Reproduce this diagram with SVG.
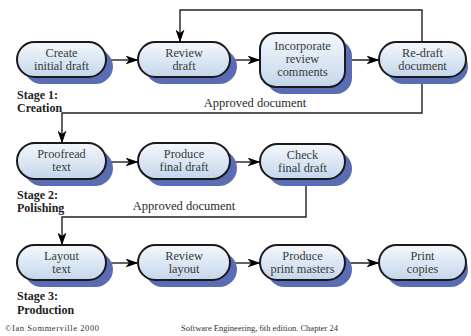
<svg xmlns="http://www.w3.org/2000/svg" width="471" height="336" viewBox="0 0 471 336">
  <defs>
    <linearGradient id="nodeFill" x1="0" y1="0" x2="0" y2="1">
      <stop offset="0" stop-color="#f4f8fc"/>
      <stop offset="1" stop-color="#c4d6eb"/>
    </linearGradient>
    <marker id="arrow" viewBox="0 0 13 9" refX="12.5" refY="4.5" markerWidth="13" markerHeight="9" markerUnits="userSpaceOnUse" orient="auto">
      <path d="M0,0 L13,4.5 L0,9 L3.5,4.5 Z" fill="#000"/>
    </marker>
  </defs>
  <style>
    .shadow { fill: #5a6cb4; }
    .box { fill: url(#nodeFill); stroke: #1a1a1a; stroke-width: 2; }
    text { font-family: 'Liberation Serif', 'Times New Roman', 'DejaVu Serif', serif; }
    .label { font-size: 12.3px; fill: #3a3a3a; text-anchor: middle; }
    .stage { font-size: 12px; font-weight: bold; fill: #222; }
    .note { font-size: 12.5px; fill: #2a2a2a; text-anchor: middle; }
    .foot { font-size: 8.5px; fill: #333; }
    .link { fill: none; stroke: #222; stroke-width: 1.4; }
  </style>
  <rect width="471" height="336" fill="#fff"/>

  <!-- Connectors -->
  <g id="connectors">
    <path class="link" d="M106,60 H138" marker-end="url(#arrow)"/>
    <path class="link" d="M230,60 H260" marker-end="url(#arrow)"/>
    <path class="link" d="M345,60 H379" marker-end="url(#arrow)"/>
    <path class="link" d="M422,42 V10 H180 V42" marker-end="url(#arrow)"/>
    <path class="link" d="M422,77 V113 H62 V143" marker-end="url(#arrow)"/>
    <path class="link" d="M106,162 H138" marker-end="url(#arrow)"/>
    <path class="link" d="M230,162 H260" marker-end="url(#arrow)"/>
    <path class="link" d="M306,179 V217 H62 V245" marker-end="url(#arrow)"/>
    <path class="link" d="M106,263 H138" marker-end="url(#arrow)"/>
    <path class="link" d="M230,263 H260" marker-end="url(#arrow)"/>
    <path class="link" d="M345,263 H379" marker-end="url(#arrow)"/>
  </g>

  <!-- Stage 1: Creation -->
  <g id="create-initial-draft">
    <rect class="shadow" x="24" y="49" width="89" height="35" rx="17.5"/>
    <rect class="box" x="17" y="42" width="89" height="35" rx="17.5"/>
    <text class="label" x="61.5" y="57">Create</text>
    <text class="label" x="61.5" y="70">initial draft</text>
  </g>
  <g id="review-draft">
    <rect class="shadow" x="145" y="49" width="92" height="35" rx="17.5"/>
    <rect class="box" x="138" y="42" width="92" height="35" rx="17.5"/>
    <text class="label" x="184" y="57">Review</text>
    <text class="label" x="184" y="70">draft</text>
  </g>
  <g id="incorporate-comments">
    <rect class="shadow" x="267" y="40" width="85" height="54" rx="16"/>
    <rect class="box" x="260" y="33" width="85" height="54" rx="16"/>
    <text class="label" x="302.5" y="50">Incorporate</text>
    <text class="label" x="302.5" y="63">review</text>
    <text class="label" x="302.5" y="76">comments</text>
  </g>
  <g id="redraft-document">
    <rect class="shadow" x="386" y="49" width="82" height="35" rx="17.5"/>
    <rect class="box" x="379" y="42" width="87" height="35" rx="17.5"/>
    <text class="label" x="422.5" y="57">Re-draft</text>
    <text class="label" x="422.5" y="70">document</text>
  </g>
  <g id="stage-1">
    <text class="stage" x="17" y="99">Stage 1:</text>
    <text class="stage" x="17" y="112">Creation</text>
    <text class="note" x="255" y="107">Approved document</text>
  </g>

  <!-- Stage 2: Polishing -->
  <g id="proofread-text">
    <rect class="shadow" x="24" y="150" width="89" height="36" rx="18"/>
    <rect class="box" x="17" y="143" width="89" height="36" rx="18"/>
    <text class="label" x="61.5" y="158">Proofread</text>
    <text class="label" x="61.5" y="171">text</text>
  </g>
  <g id="produce-final-draft">
    <rect class="shadow" x="145" y="150" width="92" height="36" rx="18"/>
    <rect class="box" x="138" y="143" width="92" height="36" rx="18"/>
    <text class="label" x="184" y="158">Produce</text>
    <text class="label" x="184" y="171">final draft</text>
  </g>
  <g id="check-final-draft">
    <rect class="shadow" x="267" y="151" width="85" height="35" rx="17.5"/>
    <rect class="box" x="260" y="144" width="85" height="35" rx="17.5"/>
    <text class="label" x="302.5" y="159">Check</text>
    <text class="label" x="302.5" y="172">final draft</text>
  </g>
  <g id="stage-2">
    <text class="stage" x="17" y="199">Stage 2:</text>
    <text class="stage" x="17" y="212">Polishing</text>
    <text class="note" x="184" y="210">Approved document</text>
  </g>

  <!-- Stage 3: Production -->
  <g id="layout-text">
    <rect class="shadow" x="24" y="252" width="89" height="35" rx="17.5"/>
    <rect class="box" x="17" y="245" width="89" height="35" rx="17.5"/>
    <text class="label" x="61.5" y="260">Layout</text>
    <text class="label" x="61.5" y="273">text</text>
  </g>
  <g id="review-layout">
    <rect class="shadow" x="145" y="252" width="92" height="35" rx="17.5"/>
    <rect class="box" x="138" y="245" width="92" height="35" rx="17.5"/>
    <text class="label" x="184" y="260">Review</text>
    <text class="label" x="184" y="273">layout</text>
  </g>
  <g id="produce-print-masters">
    <rect class="shadow" x="267" y="252" width="85" height="35" rx="17.5"/>
    <rect class="box" x="260" y="245" width="85" height="35" rx="17.5"/>
    <text class="label" x="302.5" y="260">Produce</text>
    <text class="label" x="302.5" y="273">print masters</text>
  </g>
  <g id="print-copies">
    <rect class="shadow" x="386" y="252" width="82" height="35" rx="17.5"/>
    <rect class="box" x="379" y="245" width="87" height="35" rx="17.5"/>
    <text class="label" x="422.5" y="260">Print</text>
    <text class="label" x="422.5" y="273">copies</text>
  </g>
  <g id="stage-3">
    <text class="stage" x="17" y="300">Stage 3:</text>
    <text class="stage" x="17" y="314">Production</text>
  </g>

  <!-- Footer -->
  <text class="foot" x="5" y="331" textLength="94" lengthAdjust="spacing">©Ian Sommerville  2000</text>
  <text class="foot" x="181" y="331">Software Engineering, 6th edition. Chapter 24</text>
</svg>
